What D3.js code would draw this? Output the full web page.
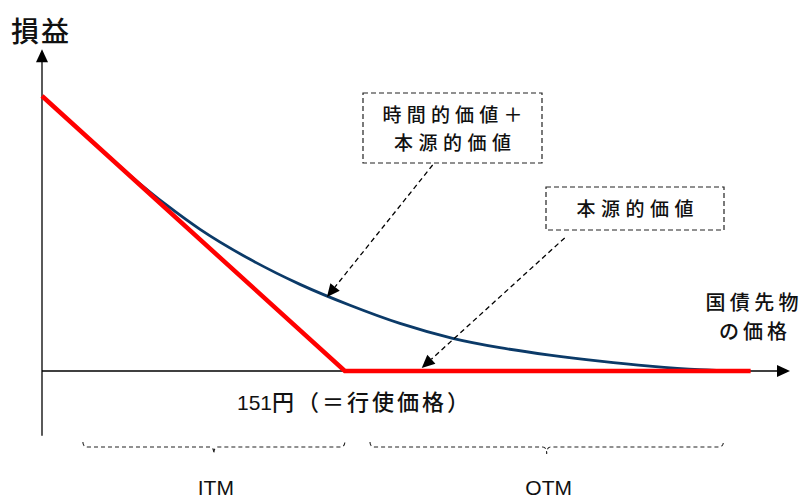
<!DOCTYPE html>
<html>
<head>
<meta charset="utf-8">
<script src="https://cdn.jsdelivr.net/npm/d3@7"></script>
<style>
    body { margin: 0; background: #fff; }
    svg { display: block; }
    .jp { font-family: "Noto Sans CJK JP", sans-serif; fill: #111; font-weight: 500; }
    .mix { font-family: "Liberation Sans", "Noto Sans CJK JP", sans-serif; fill: #111; }
</style>
</head>
<body>
<div id="wrapper"></div>
<script>
// price (x) and profit (y) values
const strike = 151;
const xAxisExtent = [141, 165.7];
const yAxisExtent = [-2.35, 11.7];

// intrinsic value (red)
const intrinsicPrice = [141, 151, 164.4];
const intrinsicValue = [10, 0, 0];

// time value + intrinsic value (blue)
const optionPrice = [142.35, 143.9, 145.13, 146.22, 147.87, 149.52, 151.17, 152.82, 154.56, 156.12, 157.77, 159.42, 161.07, 162.72, 164.04];
const optionValue = [8.65, 7.12, 6.02, 5.15, 4.06, 3.15, 2.39, 1.73, 1.19, 0.85, 0.58, 0.36, 0.18, 0.05, 0];

// ITM / OTM ranges
const rangeLabels = ["ITM", "OTM"];
const rangeStart = [142.35, 151.83];
const rangeEnd = [151.0, 163.5];

// callout arrows: [fromPrice, fromValue, toPrice, toValue]
const callouts = [
    [153.9, 7.49, 150.41, 2.69],
    [158.26, 4.84, 153.54, 0.11],
];

async function draw() {

    let dimensions = { width: 801, height: 499 };

    const wrapper = d3.select('#wrapper')
        .append('svg')
        .attr('width', dimensions.width)
        .attr('height', dimensions.height);

    const xScale = d3.scaleLinear().domain(xAxisExtent).range([42, 790]);
    const yScale = d3.scaleLinear().domain([0, 10]).range([371, 96]);

    // axes
    const x0 = xScale(xAxisExtent[0]);
    const y0 = yScale(0);
    wrapper.append('line')
        .attr('x1', x0).attr('x2', xScale(xAxisExtent[1]) - 10)
        .attr('y1', y0).attr('y2', y0)
        .attr('stroke', '#000').attr('stroke-width', 1.3);
    wrapper.append('line')
        .attr('x1', x0).attr('x2', x0)
        .attr('y1', yScale(yAxisExtent[0])).attr('y2', yScale(yAxisExtent[1]) + 10)
        .attr('stroke', '#000').attr('stroke-width', 1.3);
    const xe = xScale(xAxisExtent[1]);
    wrapper.append('path')
        .attr('d', `M${xe},${y0} L${xe - 13},${y0 - 6} L${xe - 13},${y0 + 6} Z`)
        .attr('fill', '#000');
    const ye = yScale(yAxisExtent[1]);
    wrapper.append('path')
        .attr('d', `M${x0},${ye} L${x0 - 6},${ye + 13} L${x0 + 6},${ye + 13} Z`)
        .attr('fill', '#000');

    // lines
    const lineGenerator = d3.line()
        .x(d => xScale(d[0]))
        .y(d => yScale(d[1]));

    const optionData = optionPrice.map((p, i) => [p, optionValue[i]]);
    wrapper.append('path')
        .attr('d', lineGenerator.curve(d3.curveMonotoneX)(optionData))
        .attr('fill', 'none')
        .attr('stroke', '#0b3a68')
        .attr('stroke-width', 2.8);

    const intrinsicData = intrinsicPrice.map((p, i) => [p, intrinsicValue[i]]);
    wrapper.append('path')
        .attr('d', lineGenerator.curve(d3.curveLinear)(intrinsicData))
        .attr('fill', 'none')
        .attr('stroke', '#ff0000')
        .attr('stroke-width', 4.5)
        .attr('stroke-linejoin', 'miter');

    // callout boxes
    const boxes = [
        { x: 363, y: 93, w: 179, h: 70, lines: ["時間的価値＋", "本源的価値"], len: [140, 117] },
        { x: 546, y: 187, w: 178, h: 43, lines: ["本源的価値"], len: [117] },
    ];
    boxes.forEach(b => {
        wrapper.append('rect')
            .attr('x', b.x).attr('y', b.y)
            .attr('width', b.w).attr('height', b.h)
            .attr('fill', 'none')
            .attr('stroke', '#222')
            .attr('stroke-width', 1.2)
            .attr('stroke-dasharray', '5 3');
        const startY = b.y + b.h / 2 - (b.lines.length - 1) * 14 + 7.5;
        b.lines.forEach((t, i) => {
            wrapper.append('text')
                .attr('class', 'jp')
                .attr('x', b.x + b.w / 2)
                .attr('y', startY + i * 28)
                .attr('text-anchor', 'middle')
                .attr('font-size', 19)
                .attr('textLength', b.len[i])
                .attr('lengthAdjust', 'spacing')
                .text(t);
        });
    });

    // callout arrows
    callouts.forEach(c => {
        const xa = xScale(c[0]), ya = yScale(c[1]);
        const xb = xScale(c[2]), yb = yScale(c[3]);
        const ang = Math.atan2(yb - ya, xb - xa);
        const hl = 13, hw = 6;
        const bx = xb - hl * Math.cos(ang), by = yb - hl * Math.sin(ang);
        wrapper.append('line')
            .attr('x1', xa).attr('y1', ya)
            .attr('x2', bx).attr('y2', by)
            .attr('stroke', '#000')
            .attr('stroke-width', 1.3)
            .attr('stroke-dasharray', '5 3.5');
        const px = -Math.sin(ang) * hw, py = Math.cos(ang) * hw;
        wrapper.append('path')
            .attr('d', `M${xb},${yb} L${bx + px},${by + py} L${bx - px},${by - py} Z`)
            .attr('fill', '#000');
    });

    // brackets
    const by = 447;
    rangeLabels.forEach((label, i) => {
        const xs = xScale(rangeStart[i]), xf = xScale(rangeEnd[i]);
        const c = (xs + xf) / 2;
        wrapper.append('path')
            .attr('d', `M${xs},${by - 5} Q${xs},${by} ${xs + 5},${by} L${c - 4},${by} Q${c},${by} ${c},${by + 7}`
                + ` Q${c},${by} ${c + 4},${by} L${xf - 5},${by} Q${xf},${by} ${xf},${by - 5}`)
            .attr('fill', 'none')
            .attr('stroke', '#222')
            .attr('stroke-width', 1.1)
            .attr('stroke-dasharray', '4 3');
        wrapper.append('text')
            .attr('class', 'mix')
            .attr('x', c + 2)
            .attr('y', 495)
            .attr('text-anchor', 'middle')
            .attr('font-size', 21)
            .text(label);
    });

    // labels
    wrapper.append('text')
        .attr('class', 'jp')
        .attr('x', 40).attr('y', 42)
        .attr('text-anchor', 'middle')
        .attr('font-size', 28)
        .attr('textLength', 58)
        .attr('lengthAdjust', 'spacing')
        .text('損益');

    wrapper.append('text')
        .attr('class', 'jp')
        .attr('x', 752).attr('y', 310)
        .attr('text-anchor', 'middle')
        .attr('font-size', 20)
        .attr('textLength', 93)
        .attr('lengthAdjust', 'spacing')
        .text('国債先物');
    wrapper.append('text')
        .attr('class', 'jp')
        .attr('x', 753).attr('y', 339)
        .attr('text-anchor', 'middle')
        .attr('font-size', 20)
        .attr('textLength', 68)
        .attr('lengthAdjust', 'spacing')
        .text('の価格');

    const strikeLabel = wrapper.append('text')
        .attr('class', 'mix')
        .attr('x', 237).attr('y', 410);
    strikeLabel.append('tspan')
        .attr('font-size', 21)
        .text(`${strike}`);
    strikeLabel.append('tspan')
        .attr('class', 'jp')
        .attr('font-size', 22)
        .attr('letter-spacing', 3)
        .text('円（＝行使価格）');
}

draw();
</script>
</body>
</html>
